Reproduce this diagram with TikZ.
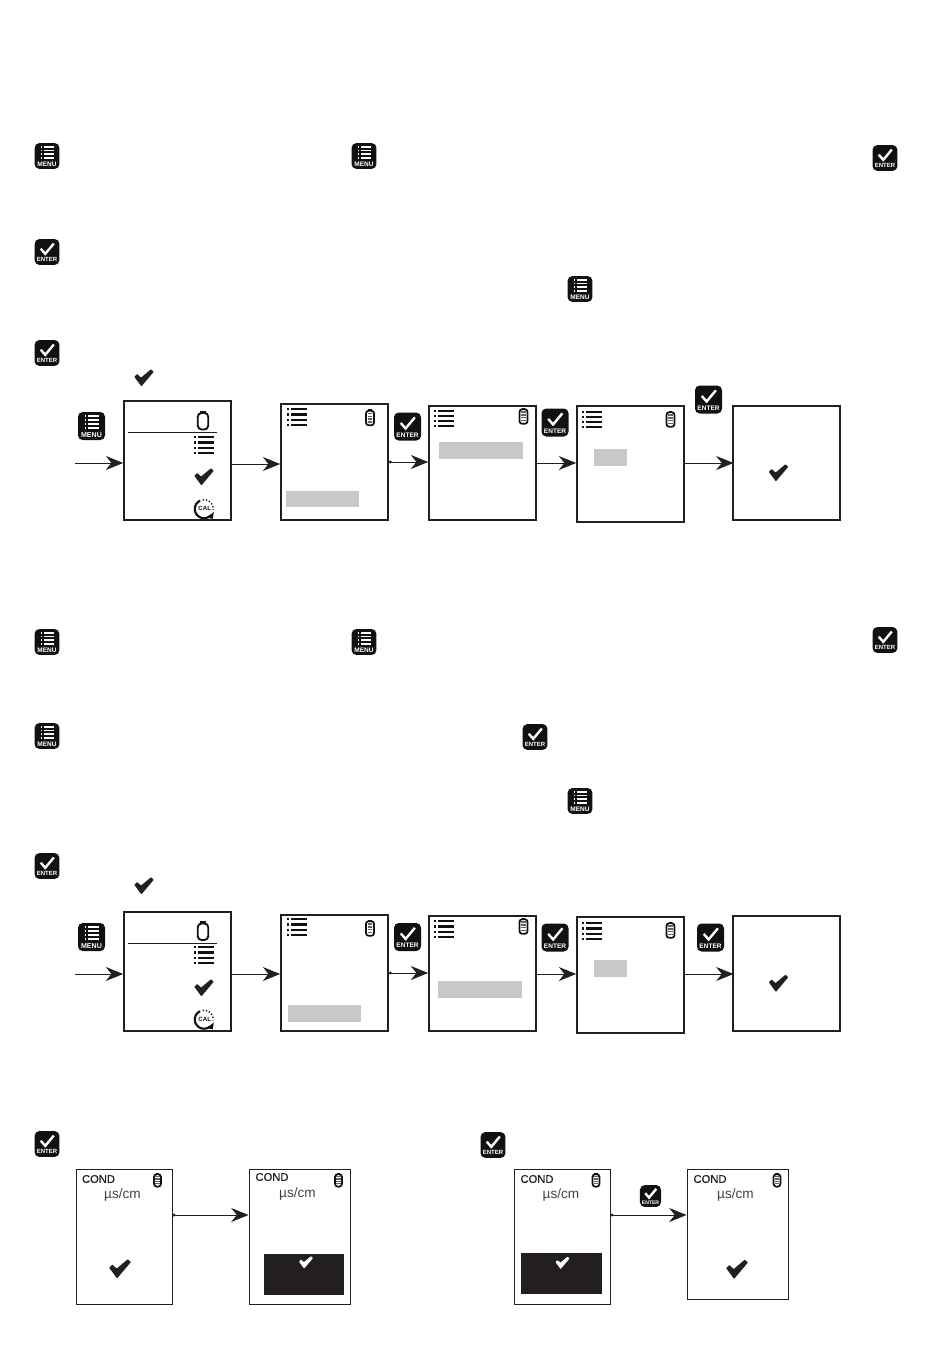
\documentclass[tikz,border=0pt]{standalone}
\usepackage{fontspec}
\setmainfont{Liberation Sans}
\newfontfamily\condfont[FakeBold=0.7]{Liberation Sans}
\usetikzlibrary{arrows.meta}

\definecolor{ink}{HTML}{231F20}
\definecolor{keyblack}{HTML}{121112}
\definecolor{lcdgrey}{HTML}{C8C8C8}
\newcommand{\px}{0.75pt}
\newcommand{\tickpath}{(-9.7,-1.2) -- (-6.8,-4) -- (-3,-0.4) -- (7,-8.8) -- (9.7,-6.2) -- (-2.6,8.4) -- cycle}

\tikzset{
	screen/.style={draw=ink,line width=1.25pt,inner sep=0pt,minimum width=107*\px,minimum height=#1*\px},
	slimscreen/.style 2 args={draw=ink,line width=0.7pt,inner sep=0pt,minimum width=#1*\px,minimum height=#2*\px},
	flow/.style={draw=ink,line width=0.75pt,-{Stealth[length=13pt,width=10.5pt,inset=4.2pt]}},
	dotflow/.style={flow,{Circle[length=2.2pt]}-{Stealth[length=13pt,width=10.5pt,inset=4.2pt]}},
	keylabel/.style={text=white,inner sep=0pt,transform shape},
	lcdtext/.style={text=ink,inner sep=0pt},
	pics/ticksign/.style={code={
		\fill[rounded corners=0.4pt,pic actions] \tickpath;
	}},
	pics/menukey/.style={code={
		\fill[keyblack,rounded corners=3.5pt] (-13.5,-14) rectangle (13.5,14);
		\foreach \y in {-10,-6,-2,2} {
			\fill[white] (-7,\y-0.9) rectangle (-5.2,\y+0.9);
			\fill[white] (-3.8,\y-1) rectangle (7.6,\y+1);
		}
		\node[keylabel,font=\bfseries\fontsize{5.3}{6}\selectfont] (-label) at (0,8.6) {MENU};
	}},
	pics/enterkey/.style={code={
		\fill[keyblack,rounded corners=3.5pt] (-13.5,-14) rectangle (13.5,14);
		\draw[white,line width=1.8pt] (-6.8,-3.6) -- (-1.9,2) -- (7.4,-9.2);
		\node[keylabel,font=\bfseries\fontsize{4.9}{6}\selectfont] (-label) at (0,8.6) {ENTER};
	}},
	pics/listicon/.style={code={
		\foreach \y in {-7.8,-2.6,2.6,7.8} {
			\fill[keyblack] (-10,\y-1.1) rectangle (-8,\y+1.1);
			\fill[keyblack] (-6.5,\y-1.1) rectangle (10,\y+1.1);
		}
	}},
	pics/batteryicon/.style={code={
		\draw[keyblack,line width=1.3pt,rounded corners=2pt,fill=white] (-4,-6.8) rectangle (4,7.8);
		\fill[keyblack] (-1.8,-8.4) rectangle (1.8,-6.5);
		\foreach \y in {-4,-1.2,1.6,4.4}
			\fill[ink!70] (-2.4,\y-0.75) rectangle (2.4,\y+0.75);
	}},
	pics/emptybattery/.style={code={
		\draw[keyblack,line width=1.4pt,rounded corners=3pt] (-5.3,-7.6) rectangle (5.3,9);
		\fill[keyblack] (-2.6,-9.6) rectangle (2.6,-7.6);
	}},
	pics/calicon/.style={code={
		\draw[keyblack,line width=1.6pt] plot[smooth,domain=245:50,samples=20] ({9.2*cos(\x)},{9.2*sin(\x)});
		\draw[keyblack,line width=1.1pt,dash pattern=on 0.9pt off 1.5pt] plot[smooth,domain=262:365,samples=12] ({9.2*cos(\x)},{9.2*sin(\x)});
		\fill[keyblack] (9.8,3) -- (8.8,9.8) -- (2.5,8.6) -- cycle;
		\node[text=keyblack,inner sep=0pt,font=\bfseries\fontsize{4.6}{5}\selectfont] (-label) at (0.7,-0.5) {CAL};
	}},
}

\begin{document}
\begin{tikzpicture}[x=\px,y=-\px]
	\useasboundingbox (0,0) rectangle (950,1363);

	% keys beside the instructions
	\foreach \x/\y [count=\i] in {47/156,364/156,580/289,47/642,364/642,47/736,580/801}
		\pic[scale=.92] (menutext\i) at (\x,\y) {menukey};
	\foreach \x/\y [count=\i] in {885/158,47/252,47/353,885/640,535/737,47/866,47/1144,493/1145}
		\pic[scale=.92] (entertext\i) at (\x,\y) {enterkey};
	\foreach \x/\y in {144/378,144/886}
		\pic[fill=ink] at (\x,\y) {ticksign};

	% first sequence
	\node[screen=119] (scrA) at (177.5,460.5) {};
	\node[screen=116] (scrB) at (334.5,462) {};
	\node[screen=114] (scrC) at (482.5,463) {};
	\node[screen=116] (scrD) at (630.5,464) {};
	\node[screen=114] (scrE) at (786.5,463) {};
	\coordinate (startA) at (75,463);
	\draw[flow] (startA) -- (scrA.west |- startA);
	\draw[flow] (scrA.east |- 0,464) -- (scrB.west |- 0,464);
	\draw[dotflow] (scrB.east |- 0,462) -- (scrC.west |- 0,462);
	\draw[flow] (scrC.east |- 0,463) -- (scrD.west |- 0,463);
	\draw[flow] (scrD.east |- 0,463) -- ([xshift=1pt]scrE.west |- 0,463);
	\pic (menuA) at (91.5,426) {menukey};
	\pic (enterB) at (407.5,426.5) {enterkey};
	\pic (enterC) at (555,422.5) {enterkey};
	\pic (enterD) at (708.5,399.5) {enterkey};
	\pic at (203,420.5) {emptybattery};
	\draw[ink,line width=0.75pt] (128,432) -- (217,432);
	\pic at (204,445) {listicon};
	\pic[fill=ink] at (204,477) {ticksign};
	\pic (calA) at (204,509) {calicon};
	\pic at (297,417) {listicon};
	\pic at (444,418.5) {listicon};
	\pic at (592,419.5) {listicon};
	\pic at (370,417.5) {batteryicon};
	\pic at (523.5,416) {batteryicon};
	\pic at (670.5,419) {batteryicon};
	\pic[fill=ink] at (778.5,473) {ticksign};

	% second sequence
	\node[screen=119] (scrF) at (177.5,971.5) {};
	\node[screen=116] (scrG) at (334.5,973) {};
	\node[screen=115] (scrH) at (482.5,973.5) {};
	\node[screen=116] (scrI) at (630.5,975) {};
	\node[screen=115] (scrJ) at (786.5,973.5) {};
	\coordinate (startF) at (75,974);
	\draw[flow] (startF) -- (scrF.west |- startF);
	\draw[flow] (scrF.east |- 0,974) -- (scrG.west |- 0,974);
	\draw[dotflow] (scrG.east |- 0,973) -- (scrH.west |- 0,973);
	\draw[flow] (scrH.east |- 0,974) -- (scrI.west |- 0,974);
	\draw[flow] (scrI.east |- 0,974) -- ([xshift=1pt]scrJ.west |- 0,974);
	\pic (menuF) at (91.5,937) {menukey};
	\pic (enterG) at (407.5,937) {enterkey};
	\pic (enterH) at (555,937.5) {enterkey};
	\pic (enterI) at (710.5,937.5) {enterkey};
	\pic at (203,931) {emptybattery};
	\draw[ink,line width=0.75pt] (128,943) -- (217,943);
	\pic at (204,955) {listicon};
	\pic[fill=ink] at (204,988) {ticksign};
	\pic (calF) at (204,1019.5) {calicon};
	\pic at (297,927) {listicon};
	\pic at (444,929) {listicon};
	\pic at (592,931) {listicon};
	\pic at (370,928) {batteryicon};
	\pic at (523.5,926) {batteryicon};
	\pic at (670.5,930) {batteryicon};
	\pic[fill=ink] at (778.5,983.5) {ticksign};

	% highlighted fields
	\foreach \xa/\ya/\xb/\yb in {286/491/359/507,439/442/523/459,594/449/627/466,288/1005/361/1022,438/981/522/998,594/960/627/977}
		\fill[lcdgrey] (\xa,\ya) rectangle (\xb,\yb);

	% reading screens
	\node[slimscreen={96}{135}] (readF) at (124,1236.5) {};
	\node[slimscreen={101}{135}] (readG) at (299.5,1236.5) {};
	\node[slimscreen={96}{135}] (readH) at (562,1236.5) {};
	\node[slimscreen={101}{130}] (readI) at (737.5,1234) {};
	\draw[dotflow] (readF.east |- 0,1215) -- (readG.west |- 0,1215);
	\draw[dotflow] (readH.east |- 0,1215) -- (readI.west |- 0,1215);
	\pic[scale=.78] (enterRead) at (650.5,1196) {enterkey};
	\foreach \cx/\cy/\ux/\uy/\bx [count=\i] in {98.5/1179/122.5/1194.5/157.5,272/1177/297.5/1193.5/338.5,537/1179/561/1194.5/596,710/1179/735.5/1194.5/777} {
		\node[lcdtext,font=\condfont\fontsize{8.4}{10}\selectfont] (cond\i) at (\cx,\cy) {COND};
		\node[lcdtext,text=ink!85,font=\fontsize{10.2}{12}\selectfont] (unit\i) at (\ux,\uy) {µs/cm};
		\pic[scale=.85] at (\bx,1180) {batteryicon};
	}
	\pic[fill=ink,scale=1.12] at (120,1269) {ticksign};
	\pic[fill=ink,scale=1.12] at (737,1269.5) {ticksign};
	\fill[ink] (264,1254) rectangle (344,1295);
	\fill[ink] (521,1253) rectangle (602,1294);
	\pic[fill=white,scale=.72] at (306,1262.5) {ticksign};
	\pic[fill=white,scale=.72] at (562.5,1263) {ticksign};
\end{tikzpicture}
\end{document}
